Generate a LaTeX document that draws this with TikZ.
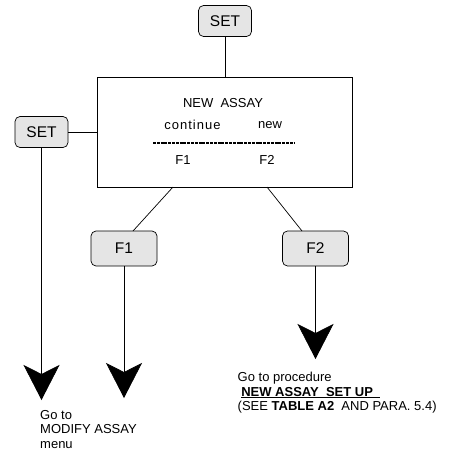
\documentclass[tikz,border=0pt]{standalone}
\usepackage{fontspec}
\setmainfont{Liberation Sans}
\usetikzlibrary{arrows.meta}
\begin{document}
\begin{tikzpicture}[x=1pt,y=-1pt,
  keybox/.style={draw=black, fill=black!10, rounded corners=5pt, line width=0.7pt,
    minimum width=53pt, minimum height=31pt, inner sep=0pt, font=\fontsize{15.5}{17}\selectfont},
  fkey/.style={keybox, minimum width=66pt, minimum height=35pt},
  link/.style={line width=0.7pt},
  bigarrow/.style={line width=0.7pt, -{Stealth[length=35pt, width=36pt, inset=9pt]}},
  disp/.style={inner sep=0pt, font=\fontsize{13}{14}\selectfont},
  note/.style={inner sep=0pt, anchor=north west, align=left, font=\fontsize{13}{14.5}\selectfont}]
\useasboundingbox (0,0) rectangle (453,461);

% keys and display
\node[keybox] (settop) at (225,21) {SET};
\node[draw=black, line width=0.7pt, minimum width=255pt, minimum height=110pt, inner sep=0pt] (screen) at (224.5,132) {};
\node[keybox] (setleft) at (41.5,132) {SET};
\node[fkey] (f1) at (124,248.5) {F1};
\node[fkey] (f2) at (315.5,248.5) {F2};

% display contents
\node[disp] (title) at (223,103) {NEW\ \ ASSAY};
\node[disp] (cont) at (192.5,125) {c\kern1pt o\kern1pt n\kern1pt t\kern1pt i\kern1pt n\kern1pt u\kern1pt e};
\node[disp] (new) at (270,125) {new};
\coordinate (dashl) at (153,143);
\coordinate (dashr) at (295,143);
\draw[line width=1.3pt, dash pattern=on 3pt off 0.8pt] (dashl) -- (dashr);
\node[disp] (lf1) at (183,160) {F1};
\node[disp] (lf2) at (267,160) {F2};

% connectors
\draw[link] (settop.south) -- (screen.north -| settop.south);
\draw[link] (setleft.east) -- (screen.west);
\coordinate (s1) at (173,187);
\coordinate (s2) at (267,187);
\coordinate (f1t) at (133,231);
\coordinate (f2t) at (302,231);
\draw[link] (s1) -- (f1t);
\draw[link] (s2) -- (f2t);

% outgoing arrows
\coordinate (endleft) at (41.5,400);
\coordinate (endf1) at (124,398);
\coordinate (endf2) at (315.5,359);
\draw[bigarrow] (setleft.south) -- (endleft);
\draw[bigarrow] (f1.south) -- (endf1);
\draw[bigarrow] (f2.south) -- (endf2);

% destination notes
\node[note] (modify) at (40,410) {Go to\\MODIFY ASSAY\\menu};
\node[note] (proc) at (237.5,372) {Go to procedure\\
  \ \underline{\textbf{NEW ASSAY\ \ SET UP}\ \ }\\
  (SEE \textbf{TABLE A2}\ \ AND PARA. 5.4)};
\end{tikzpicture}
\end{document}
